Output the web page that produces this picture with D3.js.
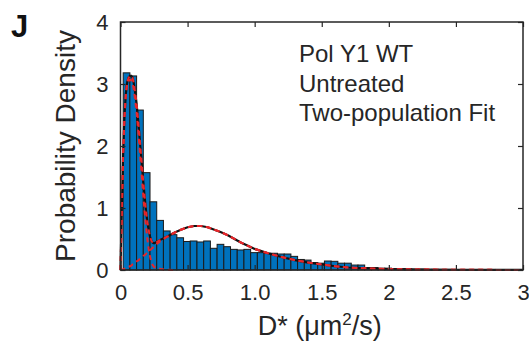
<!DOCTYPE html>
<html>
<head>
<meta charset="utf-8">
<script src="https://cdn.jsdelivr.net/npm/d3@7"></script>
<style>
  html, body { margin: 0; padding: 0; background: #fff; }
  svg { display: block; font-family: Arial, "Liberation Sans", sans-serif; }
</style>
</head>
<body>
<svg id="chart" width="529" height="345"></svg>
<script>
// ---- data ----
const binStart = 0.02;      // left edge of first bin
const binWidth = 0.05;
const binHeights = [3.18, 3.13, 2.58, 1.57, 1.10, 0.80, 0.63, 0.57, 0.52, 0.46,
  0.468, 0.452, 0.468, 0.35, 0.414, 0.376, 0.333, 0.323, 0.333, 0.28,
  0.28, 0.27, 0.27, 0.258, 0.258, 0.22, 0.17, 0.16, 0.12, 0.11,
  0.145, 0.14, 0.11, 0.11, 0.08, 0.08, 0.04, 0.04, 0.03, 0.03,
  0.02, 0.02, 0.02, 0.015, 0.015, 0.01, 0.01, 0.01, 0.01, 0.008,
  0.008, 0.005, 0.005, 0.005];

const fitX = [0, 0.01, 0.02, 0.03, 0.04, 0.05, 0.06, 0.07, 0.08, 0.09,
  0.10, 0.11, 0.12, 0.13, 0.14, 0.15, 0.16, 0.17, 0.18, 0.19,
  0.20, 0.21, 0.22, 0.23, 0.24, 0.25, 0.27, 0.30, 0.35, 0.40,
  0.45, 0.50, 0.55, 0.60, 0.65, 0.70, 0.75, 0.80, 0.85, 0.90,
  0.95, 1.0, 1.1, 1.2, 1.3, 1.4, 1.5, 1.6, 1.7, 1.8,
  1.9, 2.0, 2.2, 2.5, 2.8, 3.0];
const fitTotal = [0, 1.0, 1.9, 2.5, 2.85, 3.03, 3.1, 3.13, 3.13, 3.1,
  3.0, 2.85, 2.68, 2.45, 2.2, 1.94, 1.68, 1.42, 1.18, 0.96,
  0.78, 0.64, 0.54, 0.47, 0.44, 0.43, 0.45, 0.49, 0.54, 0.60,
  0.65, 0.69, 0.71, 0.71, 0.69, 0.65, 0.61, 0.56, 0.50, 0.44,
  0.39, 0.34, 0.27, 0.21, 0.16, 0.12, 0.09, 0.06, 0.04, 0.03,
  0.02, 0.015, 0.008, 0.004, 0.002, 0.001];
const fitPop1 = [0, 0.99, 1.89, 2.48, 2.82, 3.0, 3.05, 3.07, 3.06, 3.01,
  2.9, 2.73, 2.54, 2.3, 2.03, 1.75, 1.47, 1.19, 0.94, 0.70,
  0.50, 0.34, 0.22, 0.13, 0.08, 0.05, 0.03, 0.015, 0.003, 0];
const fitPop2 = [0, 0.01, 0.01, 0.02, 0.03, 0.04, 0.05, 0.06, 0.07, 0.09,
  0.10, 0.12, 0.14, 0.15, 0.17, 0.19, 0.21, 0.23, 0.24, 0.26,
  0.28, 0.30, 0.32, 0.34, 0.36, 0.38, 0.42, 0.47, 0.54, 0.60,
  0.65, 0.69, 0.71, 0.71, 0.69, 0.65, 0.61, 0.56, 0.50, 0.44,
  0.39, 0.34, 0.27, 0.21, 0.16, 0.12, 0.09, 0.06, 0.04, 0.03,
  0.02, 0.015, 0.008, 0.004, 0.002, 0.001];

const xTicks = [0, 0.5, 1, 1.5, 2, 2.5, 3];
const xTickLabels = ["0", "0.5", "1.0", "1.5", "2", "2.5", "3"];
const yTicks = [0, 1, 2, 3, 4];
const annotations = ["Pol Y1 WT", "Untreated", "Two-population Fit"];

// ---- layout ----
const svg = d3.select("#chart");
const L = 120.5, R = 523, T = 22, B = 270;
const x = d3.scaleLinear().domain([0, 3]).range([L, R]);
const y = d3.scaleLinear().domain([0, 4]).range([B, T]);
const axisColor = "#262626";

// bars
const bins = binHeights.map((h, i) => ({x0: binStart + i * binWidth, x1: binStart + (i + 1) * binWidth, h}));
svg.append("g").selectAll("rect").data(bins).join("rect")
  .attr("x", d => x(d.x0))
  .attr("y", d => y(d.h))
  .attr("width", d => x(d.x1) - x(d.x0))
  .attr("height", d => y(0) - y(d.h))
  .attr("fill", "#0072BD")
  .attr("stroke", "#1a1a1a")
  .attr("stroke-width", 1);

// fit lines
const line = d3.line().x(d => x(d[0])).y(d => y(d[1]));
const totalPts = fitX.map((v, i) => [v, fitTotal[i]]);
const pop1Pts = fitPop1.map((v, i) => [fitX[i], v]);
const pop2Pts = fitX.map((v, i) => [v, fitPop2[i]]);

svg.append("path").datum(totalPts).attr("d", line)
  .attr("fill", "none").attr("stroke", "#111").attr("stroke-width", 2.2);
[pop1Pts, pop2Pts, totalPts].forEach(pts => {
  svg.append("path").datum(pts).attr("d", line)
    .attr("fill", "none").attr("stroke", "#e8262a").attr("stroke-width", 2)
    .attr("stroke-dasharray", "5,4");
});

// axes
function styleAxis(g) {
  g.select(".domain").remove();
  g.selectAll(".tick line").attr("stroke", axisColor).attr("stroke-width", 1.2);
  g.selectAll(".tick text").attr("fill", "#262626").style("font-size", "22px")
    .style("font-family", "Arial, 'Liberation Sans', sans-serif");
}
svg.append("g").attr("transform", `translate(0,${B})`)
  .call(d3.axisBottom(x).tickValues(xTicks).tickFormat((d, i) => xTickLabels[i]).tickSize(-5).tickPadding(14))
  .call(styleAxis);
svg.append("g").attr("transform", `translate(0,${T})`)
  .call(d3.axisTop(x).tickValues(xTicks).tickFormat("").tickSize(-5))
  .call(styleAxis);
svg.append("g").attr("transform", `translate(${L},0)`)
  .call(d3.axisLeft(y).tickValues(yTicks).tickFormat(d3.format("d")).tickSize(-5).tickPadding(12))
  .call(styleAxis);
svg.append("g").attr("transform", `translate(${R},0)`)
  .call(d3.axisRight(y).tickValues(yTicks).tickFormat("").tickSize(-5))
  .call(styleAxis);

// box
svg.append("rect").attr("x", L).attr("y", T).attr("width", R - L).attr("height", B - T)
  .attr("fill", "none").attr("stroke", axisColor).attr("stroke-width", 1.5);

// labels
svg.append("text").attr("x", 11).attr("y", 37).text("J")
  .style("font-size", "31px").style("font-weight", "bold").attr("fill", "#111");

svg.append("text")
  .attr("transform", `translate(75,${(T + B) / 2}) rotate(-90)`)
  .attr("text-anchor", "middle")
  .style("font-size", "28px").attr("fill", "#262626")
  .text("Probability Density");

const xl = svg.append("text")
  .attr("x", (L + R) / 2 - 2).attr("y", 335)
  .attr("text-anchor", "middle")
  .style("font-size", "27px").attr("fill", "#262626");
xl.append("tspan").text("D* (μm");
xl.append("tspan").attr("dy", -10).style("font-size", "17px").text("2");
xl.append("tspan").attr("dy", 10).text("/s)");

svg.append("g").selectAll("text").data(annotations).join("text")
  .attr("x", 299)
  .attr("y", (d, i) => 62 + i * 29.5)
  .style("font-size", "24px").attr("fill", "#262626")
  .text(d => d);
</script>
</body>
</html>
